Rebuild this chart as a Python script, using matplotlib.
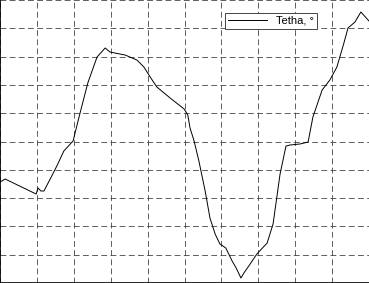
import matplotlib
matplotlib.use("Agg")
import matplotlib.pyplot as plt

# time, s
t = [0.00, 0.14, 0.98, 1.03, 1.11, 1.19, 1.36, 1.54, 1.73, 1.98,
     2.17, 2.38, 2.63, 2.85, 2.98, 3.39, 3.71, 3.90, 4.07, 4.25,
     4.61, 4.99, 5.09, 5.15, 5.26, 5.39, 5.56, 5.69, 5.83, 5.96,
     6.12, 6.29, 6.40, 6.53, 6.61, 6.78, 6.96, 7.24, 7.40, 7.59,
     7.75, 7.86, 8.13, 8.35, 8.48, 8.73, 8.94, 9.13, 9.32, 9.43,
     9.62, 9.78, 10.00]
# angle, degrees
tetha = [-7.16, -6.63, -9.28, -8.22, -8.75, -8.75, -6.63, -4.33, -1.68, 0.09,
         5.04, 10.34, 14.93, 16.52, 15.81, 15.28, 14.40, 13.16, 11.40, 9.63,
         7.69, 5.74, 4.68, 2.39, 0.09, -3.45, -8.75, -13.52, -16.34, -18.11,
         -18.82, -21.11, -22.35, -24.12, -23.23, -21.64, -19.88, -17.93, -14.58, -5.74,
         -0.80, -0.62, -0.44, -0.09, 4.33, 9.10, 10.87, 13.16, 17.40, 20.05,
         21.11, 22.88, 21.29]

plt.rcParams['font.family'] = ['Liberation Sans', 'DejaVu Sans']

fig = plt.figure(figsize=(3.69, 2.83), dpi=100)
ax = fig.add_axes([0, 0, 1, 1])

ax.plot(t, tetha, color='black', linewidth=0.7, label='Tetha, °')

ax.set_xlim(0, 10)
ax.set_ylim(-25, 25)
ax.set_xticks(range(0, 11))
ax.set_yticks(range(-25, 26, 5))
ax.tick_params(length=0, labelbottom=False, labelleft=False)
ax.grid(True, color='#444444', linestyle=(0, (7, 4)), linewidth=0.6)

for side in ['top', 'right']:
    ax.spines[side].set_visible(False)
for side in ['left', 'bottom']:
    ax.spines[side].set_linewidth(1.2)

leg = ax.legend(loc='upper right', bbox_to_anchor=(0.875, 0.975), fontsize=8,
                handlelength=3.5, fancybox=False, framealpha=1,
                edgecolor='#444444', borderpad=0.3)
leg.get_frame().set_linewidth(0.7)

fig.savefig('out.png', dpi=100)
